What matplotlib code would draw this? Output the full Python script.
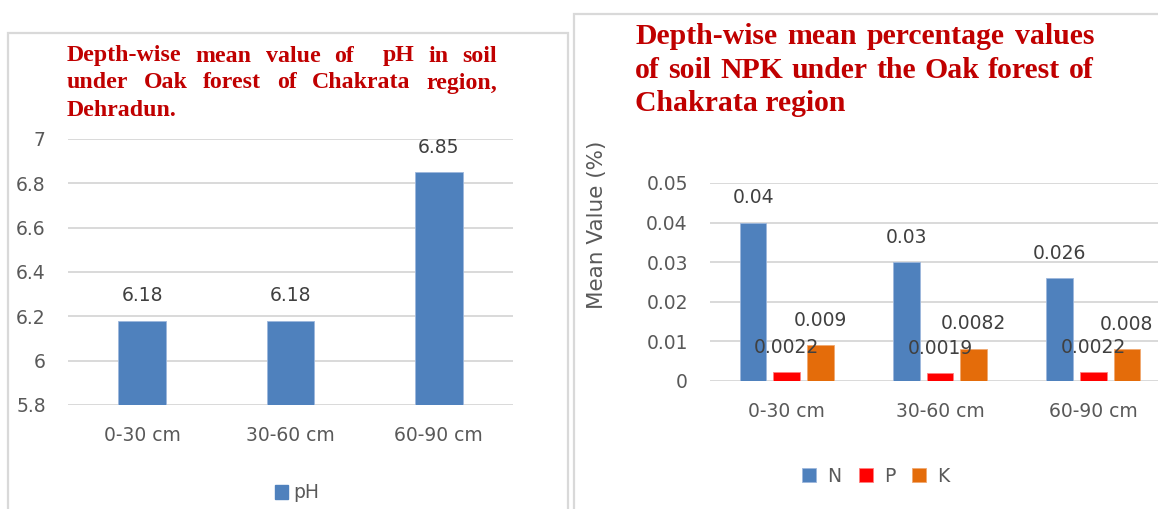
import numpy as np
import matplotlib
matplotlib.use('Agg')
import matplotlib.pyplot as plt
from matplotlib.patches import Rectangle, Patch

# -----------------------------------------------------------------------------
# data

depths = ['0-30 cm', '30-60 cm', '60-90 cm']

ph = [6.18, 6.18, 6.85]
ph_ticks = [5.8, 6.0, 6.2, 6.4, 6.6, 6.8, 7.0]
ph_tick_labels = ['5.8', '6', '6.2', '6.4', '6.6', '6.8', '7']

n_vals = [0.04, 0.03, 0.026]
p_vals = [0.0022, 0.0019, 0.0022]
k_vals = [0.009, 0.0082, 0.008]
npk_ticks = [0, 0.01, 0.02, 0.03, 0.04, 0.05]
npk_tick_labels = ['0', '0.01', '0.02', '0.03', '0.04', '0.05']

title_ph = ['Depth-wise mean value of  pH in soil',
            'under Oak forest of Chakrata region,',
            'Dehradun.']
title_npk = ['Depth-wise mean percentage values',
             'of soil NPK under the Oak forest of',
             'Chakrata region']

# -----------------------------------------------------------------------------

BLUE = '#4F81BD'
RED = '#FF0000'
ORANGE = '#E46C0A'
GRID = '#D9D9D9'
TXT = '#595959'
TITLE = '#C00000'

plt.rcParams['font.family'] = ['DejaVu Sans']
plt.rcParams['font.size'] = 13.5
plt.rcParams['text.color'] = TXT

W, H = 1158, 509
fig = plt.figure(figsize=(W / 100, H / 100), dpi=100)


def px(x0, y0, x1, y1):
    return [x0 / W, 1 - y1 / H, (x1 - x0) / W, (y1 - y0) / H]


def style_axes(ax):
    for s in ax.spines.values():
        s.set_visible(False)
    ax.yaxis.grid(True, color=GRID, lw=1.4)
    ax.set_axisbelow(True)
    ax.tick_params(length=0, colors=TXT)
    ax.tick_params(axis='y', pad=16)
    ax.tick_params(axis='x', pad=15)


def label_bars(ax, bars, vals):
    for b, v in zip(bars, vals):
        ax.annotate(f'{v:g}', (b.get_x() + b.get_width() / 2, v),
                    xytext=(0, 18), textcoords='offset points',
                    ha='center', va='center', color='#404040')


def title_block(lines, x0, x1, baselines, size):
    # justified lines, last one left aligned (like the word processor did)
    r = fig.canvas.get_renderer()
    for i, (line, yb) in enumerate(zip(lines, baselines)):
        kw = dict(fontsize=size, fontweight='bold', color=TITLE,
                  family='Liberation Serif', va='baseline',
                  transform=fig.transFigure)
        if i == len(lines) - 1:
            fig.text(x0 / W, 1 - yb / H, line, **kw)
            continue
        words, gaps, empties = [], [], 0
        for t in line.split(' '):
            if t == '':
                empties += 1
                continue
            if words:
                gaps.append(1 + empties)
            empties = 0
            words.append(t)
        texts = [fig.text(0, 1 - yb / H, w, **kw) for w in words]
        widths = [t.get_window_extent(r).width for t in texts]
        extra = (x1 - x0 - sum(widths)) / sum(gaps)
        x = x0
        for j, (t, w) in enumerate(zip(texts, widths)):
            t.set_x(x / W)
            if j < len(gaps):
                x += w + extra * gaps[j]


# -----------------------------------------------------------------------------
# panel frames

fig.add_artist(Rectangle((8 / W, -0.05), 560 / W, 1 - 33 / H + 0.05,
                         transform=fig.transFigure, fill=False,
                         ec=GRID, lw=1.6))
fig.add_artist(Rectangle((574 / W, -0.05), 0.6, 1 - 14 / H + 0.05,
                         transform=fig.transFigure, fill=False,
                         ec=GRID, lw=1.6))

# -----------------------------------------------------------------------------
# left: pH

x = np.arange(len(depths))

ax1 = fig.add_axes(px(68, 139, 513, 405))
b = ax1.bar(x, ph, width=0.32, color=BLUE, edgecolor='#9DB7DC', lw=0.6,
            zorder=3)
label_bars(ax1, b, ph)
ax1.set_xlim(-0.5, 2.5)
ax1.set_ylim(5.8, 7.0)
ax1.set_yticks(ph_ticks, labels=ph_tick_labels)
ax1.set_xticks(x, labels=depths)
style_axes(ax1)

ax1.legend([Patch(color=BLUE)], ['pH'], loc='center', frameon=False,
           bbox_to_anchor=(297 / W, 1 - 493 / H),
           bbox_transform=fig.transFigure,
           handlelength=0.7, handleheight=0.7, handletextpad=0.3)

# -----------------------------------------------------------------------------
# right: NPK

bw = 0.173
off = 0.219

ax2 = fig.add_axes(px(710, 183, 1170, 381))
bn = ax2.bar(x - off, n_vals, width=bw, color=BLUE, edgecolor='#9DB7DC',
             lw=0.6, zorder=3, label='N')
bp = ax2.bar(x, p_vals, width=bw, color=RED, edgecolor='#FF8080',
             lw=0.6, zorder=3, label='P')
bk = ax2.bar(x + off, k_vals, width=bw, color=ORANGE, edgecolor='#F0A870',
             lw=0.6, zorder=3, label='K')
label_bars(ax2, bn, n_vals)
label_bars(ax2, bp, p_vals)
label_bars(ax2, bk, k_vals)
ax2.set_xlim(-0.5, 2.5)
ax2.set_ylim(0, 0.05)
ax2.set_yticks(npk_ticks, labels=npk_tick_labels)
ax2.set_xticks(x, labels=depths)
style_axes(ax2)
ax2.set_ylabel('Mean Value (%)', fontsize=15.5, color=TXT)
ax2.yaxis.set_label_coords((607 - 710) / 460, (381 - 225) / 198)

ax2.legend(loc='center', frameon=False, ncol=3,
           bbox_to_anchor=(876 / W, 1 - 476 / H),
           bbox_transform=fig.transFigure,
           handlelength=0.75, handleheight=0.75, handletextpad=0.6,
           columnspacing=0.9)

# -----------------------------------------------------------------------------
# titles

title_block(title_ph, 67, 497, [61.5, 88.5, 115.5], 17.2)
title_block(title_npk, 635, 1094, [44, 78, 111], 21.4)

fig.savefig('out.png', dpi=100)
